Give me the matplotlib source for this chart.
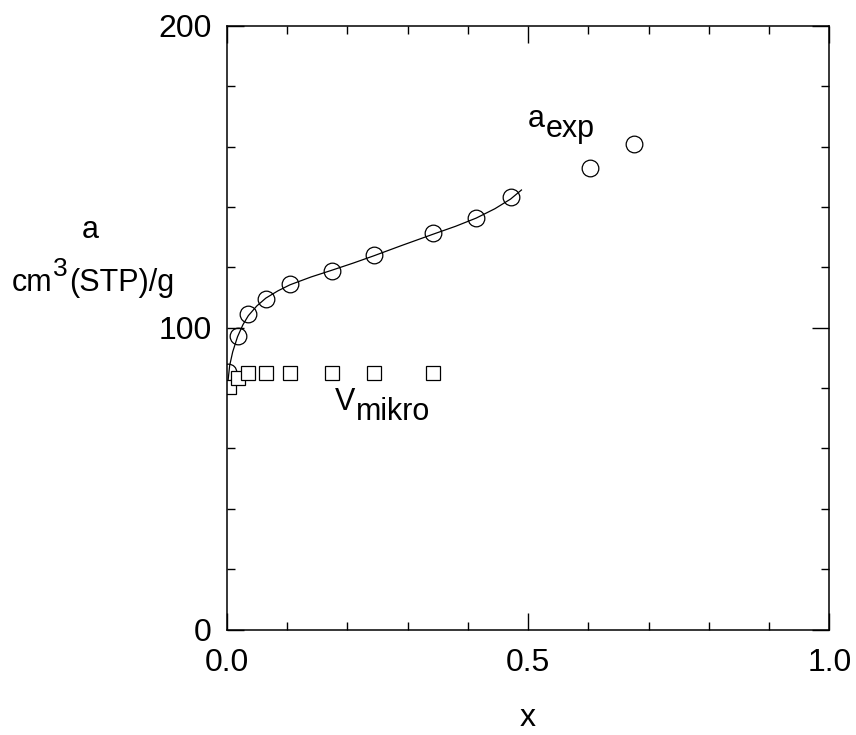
import numpy as np
import matplotlib.pyplot as plt
from matplotlib.ticker import MultipleLocator

plt.rcParams['font.family'] = ['Liberation Sans', 'DejaVu Sans']

# measured adsorption (circles)
x_exp = [0.003, 0.018, 0.036, 0.065, 0.105, 0.174, 0.244, 0.343, 0.414, 0.471, 0.602, 0.676]
a_exp = [85.2, 97.3, 104.4, 109.6, 114.4, 118.9, 124.2, 131.3, 136.2, 143.4, 152.8, 160.8]

# micropore volume (squares)
x_mik = [0.004, 0.018, 0.036, 0.065, 0.105, 0.174, 0.244, 0.343]
v_mik = [80.5, 83.4, 84.9, 84.9, 84.9, 84.9, 84.9, 84.9]

# fitted curve
x_fit = [0.002, 0.005, 0.010, 0.018, 0.027, 0.036, 0.050, 0.065, 0.085, 0.105,
         0.140, 0.174, 0.210, 0.244, 0.290, 0.343, 0.380, 0.414, 0.445, 0.471, 0.489]
a_fit = [82.0, 87.5, 92.0, 97.0, 101.0, 104.0, 107.2, 109.8, 112.2, 114.2,
         116.8, 119.0, 121.4, 123.8, 127.2, 131.0, 133.6, 136.3, 139.4, 142.6, 145.6]

FS = 23

fig = plt.figure(figsize=(8.56, 7.35), dpi=100)
ax = fig.add_axes([0.2648, 0.1433, 0.7042, 0.8217])

ax.plot(x_fit, a_fit, '-', color='black', lw=0.9)
ax.plot(x_exp, a_exp, 'o', mfc='none', mec='black', ms=12, mew=0.9)
ax.plot(x_mik, v_mik, 's', mfc='white', mec='black', ms=9.5, mew=0.9)

ax.set_xlim(0, 1)
ax.set_ylim(0, 200)
ax.xaxis.set_major_locator(MultipleLocator(0.5))
ax.xaxis.set_minor_locator(MultipleLocator(0.1))
ax.yaxis.set_major_locator(MultipleLocator(100))
ax.yaxis.set_minor_locator(MultipleLocator(20))
ax.xaxis.set_major_formatter(plt.FuncFormatter(lambda v, p: '%.1f' % v))
ax.yaxis.set_major_formatter(plt.FuncFormatter(lambda v, p: '%d' % v))
ax.tick_params(which='both', direction='in', top=True, right=True, labelsize=FS, width=1)
ax.tick_params(which='major', length=12, pad=11)
ax.tick_params(axis='x', which='major', pad=13)
ax.tick_params(which='minor', length=6)
for s in ax.spines.values():
    s.set_linewidth(1.1)


def sub_label(x, y, base, sub, drop=7):
    # base text with a full size subscript next to it
    t = ax.text(x, y, base, fontsize=FS - 1, ha='left', va='baseline')
    ax.annotate(sub, xy=(1, 0), xycoords=t, xytext=(0.5, -drop),
                textcoords='offset points', fontsize=FS - 1, ha='left', va='bottom')


sub_label(0.50, 166.5, 'a', 'exp')
sub_label(0.18, 72.7, 'V', 'mikro')

ax.set_xlabel('x', fontsize=FS, labelpad=18)

# y label: "a" over "cm3(STP)/g" with raised 3
fig.text(90 / 856, (735 - 238) / 735, 'a', fontsize=FS - 1, ha='center', va='baseline')
t_cm = fig.text(12 / 856, (735 - 291) / 735, 'cm', fontsize=FS - 1, ha='left', va='baseline')
t_3 = ax.annotate('3', xy=(1, 0), xycoords=t_cm, xytext=(0.5, 12),
                  textcoords='offset points', fontsize=FS - 4, ha='left', va='bottom',
                  annotation_clip=False)
ax.annotate('(STP)/g', xy=(1, 0), xycoords=(t_3, t_cm), xytext=(0.5, 0),
            textcoords='offset points', fontsize=FS - 1, ha='left', va='bottom',
            annotation_clip=False)

fig.savefig('out.png', dpi=100)
